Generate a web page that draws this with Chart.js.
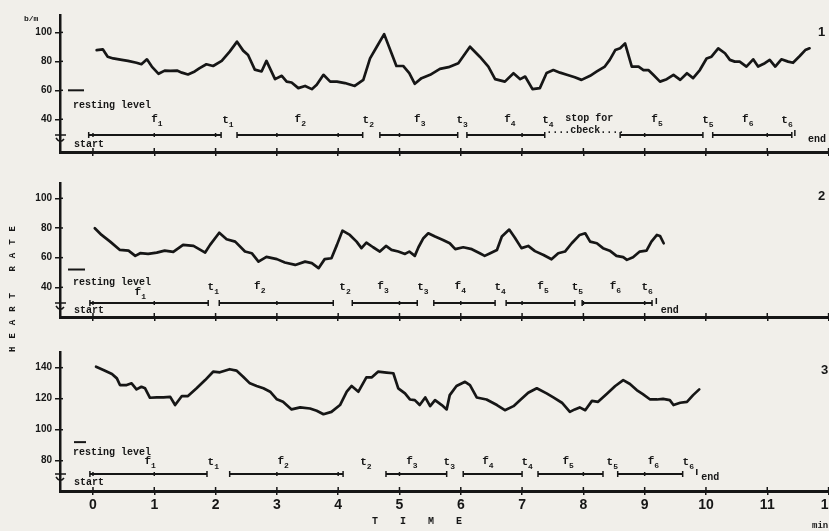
<!DOCTYPE html>
<html>
<head>
<meta charset="utf-8">
<script src="https://cdn.jsdelivr.net/npm/chart.js@4/dist/chart.umd.min.js"></script>
<style>
body{margin:0;background:#f1efea}
#wrap{position:relative;width:829px;height:531px;overflow:hidden;background:#f1efea}
canvas{position:absolute;left:0}
.lbl{position:absolute;font:bold 10px "Liberation Mono",monospace;color:#161616;white-space:nowrap}
</style>
</head>
<body>
<div id="wrap">
  <canvas id="c1" width="880" height="170" style="top:0"></canvas>
  <canvas id="c2" width="880" height="160" style="top:170px"></canvas>
  <canvas id="c3" width="880" height="201" style="top:330px"></canvas>
  <div class="lbl" style="left:24px;top:14px;font-size:8px">b/m</div>
  <div class="lbl" style="left:13px;top:285px;transform:translate(-50%,-50%) rotate(-90deg);font-size:9px;letter-spacing:8px">HEART RATE</div>
  <div class="lbl" style="left:372px;top:516px;letter-spacing:22px">TIME</div>
  <div class="lbl" style="left:812px;top:521px;font-size:9px">min.</div>
  <div class="lbl" style="left:818px;top:24px;font:bold 13px 'Liberation Sans',Arial">1</div>
  <div class="lbl" style="left:818px;top:188px;font:bold 13px 'Liberation Sans',Arial">2</div>
  <div class="lbl" style="left:821px;top:362px;font:bold 13px 'Liberation Sans',Arial">3</div>
</div>
<script>
const ink = '#161616';

// heart rate traces, minutes vs beats per minute
const time1 = [0.06,0.16,0.24,0.33,0.47,0.57,0.71,0.79,0.88,0.96,1.07,1.17,1.26,1.37,1.45,1.55,1.66,1.74,1.85,1.96,
  2.10,2.23,2.35,2.45,2.53,2.64,2.75,2.83,2.97,3.08,3.16,3.24,3.35,3.46,3.57,3.65,3.76,3.87,3.98,4.11,
  4.27,4.41,4.52,4.63,4.75,4.87,4.95,5.06,5.16,5.25,5.36,5.50,5.66,5.80,5.96,6.15,6.31,6.45,6.56,6.72,
  6.86,6.97,7.05,7.17,7.29,7.40,7.51,7.62,7.73,7.86,7.97,8.11,8.22,8.35,8.43,8.52,8.60,8.68,8.79,8.90,
  8.98,9.06,9.14,9.25,9.36,9.47,9.58,9.69,9.79,9.90,10.01,10.09,10.20,10.31,10.39,10.47,10.55,10.66,10.77,10.85,
  10.96,11.04,11.13,11.23,11.34,11.42,11.53,11.62,11.69];
const rate1 = [87.8,88.3,83.2,82,81,80.3,79,78,81.4,76.4,71.4,73.6,73.4,73.6,72.2,70.9,73,75.3,78,76.8,
  80.3,86.7,93.6,87.4,84.4,74.3,73,80.3,67.7,70,66,65.4,61.5,63,60.8,63.8,70.7,66,66,65,
  63,67.2,82,90.1,98.8,85.6,76.8,76.8,71.8,64.5,68.4,70.7,74.8,76,78.7,90.1,83.2,76.4,67.7,66,
  71.8,67.7,69.5,60.8,61.5,72,74,72.2,70.7,69,67.2,70,73,76.4,81,87.8,89,92.4,76.4,76.4,
  74,74,70.7,66,67.7,70.7,67.2,71.8,68.4,74,82,83.2,89,85.6,81,79.8,79.8,76.4,81.4,76.4,
  78.7,81,76.4,81.4,79.8,79,83.7,87.8,89];

const time2 = [0.03,0.14,0.28,0.44,0.58,0.69,0.77,0.90,1.04,1.17,1.31,1.47,1.64,1.83,1.91,2.06,2.18,2.32,2.48,2.59,
  2.70,2.83,3.00,3.13,3.30,3.46,3.57,3.68,3.78,3.89,3.98,4.07,4.19,4.30,4.38,4.46,4.57,4.68,4.78,4.87,
  4.98,5.09,5.16,5.25,5.31,5.39,5.47,5.58,5.71,5.82,5.91,6.04,6.18,6.31,6.39,6.48,6.59,6.67,6.79,6.88,
  6.99,7.10,7.21,7.35,7.48,7.59,7.70,7.81,7.94,8.03,8.11,8.22,8.32,8.43,8.54,8.65,8.71,8.81,8.92,9.03,
  9.11,9.20,9.25,9.31];
const rate2 = [79.8,75.3,70.8,65.2,64.7,61.2,63,62.5,63.4,64.7,63.9,68.6,67.9,63.4,68.6,76.8,72.4,70.8,64.1,63,
  57.3,60.5,59,56.7,55.1,57.3,56.3,52.9,59,59.6,68.6,78.2,75.3,70.8,66.4,70.1,67,64.1,67.9,65.2,
  64.1,62.5,64.1,61.2,67,73.1,76.4,74.2,71.9,69.7,65.7,67,65.7,63,61.2,63,65.2,74.2,78.9,73.6,
  66.4,67.9,64.4,61.8,58.9,63,64.1,69.7,75.3,76.4,70.8,69.7,66.4,64.7,61.2,60.3,58.5,60.3,64.1,64.7,
  70.8,75.3,74.6,69.7];

const time3 = [0.05,0.17,0.31,0.39,0.44,0.55,0.63,0.71,0.79,0.85,0.93,1.04,1.15,1.26,1.34,1.45,1.55,1.69,1.83,1.96,
  2.07,2.23,2.34,2.45,2.56,2.67,2.78,2.89,3.00,3.10,3.24,3.38,3.54,3.65,3.76,3.89,4.03,4.14,4.22,4.33,
  4.46,4.55,4.65,4.79,4.90,4.98,5.09,5.17,5.25,5.33,5.42,5.50,5.58,5.69,5.77,5.82,5.93,6.07,6.15,6.26,
  6.42,6.59,6.72,6.86,6.97,7.10,7.24,7.40,7.51,7.65,7.78,7.86,7.94,8.03,8.14,8.24,8.38,8.52,8.65,8.76,
  8.87,8.97,9.09,9.20,9.30,9.41,9.47,9.58,9.69,9.79,9.89];
const rate3 = [140.6,138.5,135.9,133.1,128.8,128.8,129.9,126,127.7,126.7,120.6,120.8,120.8,121.2,115.9,121.7,121.7,126.7,132,137.4,
  137,139,138.1,134.2,129.9,128.2,126.7,124.5,119.6,118,113.1,114.4,113.7,112.2,110,111.5,115.9,124.5,128.2,124.5,
  133.8,133.8,137.4,136.8,136.4,126.7,123.4,119.5,119.1,115.9,120.8,115.2,119.1,115.9,113.1,122.3,128.2,130.9,128.8,120.8,
  119.5,115.9,112.6,115.2,119.1,123.8,126.7,123.4,120.8,117.4,111.5,113.1,114.4,112.6,118.6,118,123,128.2,132,129.5,
  125.6,123,119.5,119.5,119.9,119.1,115.9,117.4,118,122.3,126];

// y tick values per panel
const yTicks1 = [40,60,80,100];
const yTicks2 = [40,60,80,100];
const yTicks3 = [80,100,120,140];

// work phases f1..f6 (start, end in minutes), transfer marks t1..t6
const phase1 = [[-0.07,2.09],[2.35,4.40],[4.68,5.95],[6.10,7.37],[8.60,9.95],[10.11,11.40]];
const fAt1 = [1.04,3.38,5.33,6.80,9.20,10.68];
const tAt1 = [2.20,4.49,6.02,7.42,10.03,11.32];
const check1 = [7.46,8.60];

const phase2 = [[-0.05,1.88],[2.06,3.92],[4.23,5.29],[5.56,6.56],[6.74,7.86],[7.98,9.12]];
const fAt2 = [0.77,2.72,4.73,5.99,7.34,8.52];
const tAt2 = [1.96,4.11,5.38,6.64,7.90,9.04];

const phase3 = [[-0.05,1.86],[2.23,4.08],[4.78,5.77],[6.04,7.00],[7.26,8.32],[8.56,9.62]];
const fAt3 = [0.93,3.10,5.20,6.44,7.75,9.14];
const tAt3 = [1.96,4.45,5.81,7.08,8.47,9.71];

const restLevel = [60, 52, 92];
const endMark = [11.45, 9.19, 9.85];
const endAt = [11.81, 9.41, 10.07];

const xMin = -0.538, xMax = 12.839;
const mono = '"Liberation Mono", monospace';

const notesById = {
  c1: {phases: phase1, fAt: fAt1, tAt: tAt1, rest: restLevel[0], endMark: endMark[0], endAt: endAt[0],
       check: check1, barRise: 17, textRise: 33, restRise: 47, startRise: 8, endRise: 13, dash: [8, 24], f1Drop: 0},
  c2: {phases: phase2, fAt: fAt2, tAt: tAt2, rest: restLevel[1], endMark: endMark[1], endAt: endAt[1],
       barRise: 14, textRise: 31, restRise: 35, startRise: 7, endRise: 7, dash: [8, 25], f1Drop: 6},
  c3: {phases: phase3, fAt: fAt3, tAt: tAt3, rest: restLevel[2], endMark: endMark[2], endAt: endAt[2],
       barRise: 17, textRise: 30, restRise: 39, startRise: 9, endRise: 14, dash: [14, 26], f1Drop: 0}
};

function seg(ctx, x1, y1, x2, y2) {
  ctx.beginPath(); ctx.moveTo(x1, y1); ctx.lineTo(x2, y2); ctx.stroke();
}

function subLabel(ctx, ch, n, x, y) {
  ctx.textBaseline = 'middle';
  ctx.font = 'bold 11px ' + mono;
  ctx.textAlign = 'right';
  ctx.fillText(ch, x + 1, y);
  ctx.font = 'bold 8px ' + mono;
  ctx.textAlign = 'left';
  ctx.fillText(String(n), x + 1, y + 5);
}

const notesPlugin = {
  id: 'notes',
  afterDraw(chart) {
    const o = notesById[chart.canvas.id];
    const {ctx, chartArea: a, scales: {x, y}} = chart;
    const X = v => x.getPixelForValue(v);
    const barY = a.bottom - o.barRise;
    const txtY = a.bottom - o.textRise;
    ctx.save();
    ctx.strokeStyle = ink;
    ctx.fillStyle = ink;
    ctx.lineCap = 'butt';

    // minute ticks above the base line and right of the y axis
    ctx.lineWidth = 1.5;
    x.ticks.forEach(t => seg(ctx, X(t.value), a.bottom - 4, X(t.value), a.bottom));
    y.ticks.forEach(t => { const py = y.getPixelForValue(t.value); seg(ctx, a.left, py, a.left + 3, py); });

    // phase bars
    o.phases.forEach(([s, e]) => {
      ctx.lineWidth = 2;
      seg(ctx, X(s), barY, X(e), barY);
      ctx.lineWidth = 1.5;
      seg(ctx, X(s), barY - 3, X(s), barY + 3);
      seg(ctx, X(e), barY - 3, X(e), barY + 3);
      for (let m = Math.ceil(s); m < e; m++) seg(ctx, X(m), barY - 2, X(m), barY + 2);
    });
    ctx.lineWidth = 1.5;
    seg(ctx, X(o.endMark), barY - 5, X(o.endMark), barY + 1);

    o.fAt.forEach((m, i) => subLabel(ctx, 'f', i + 1, X(m), txtY + (i === 0 ? o.f1Drop : 0)));
    o.tAt.forEach((m, i) => subLabel(ctx, 't', i + 1, X(m), txtY + 1));

    ctx.textBaseline = 'middle';
    ctx.font = 'bold 10px ' + mono;
    if (o.check) {
      const cx = (X(o.check[0]) + X(o.check[1])) / 2;
      ctx.textAlign = 'center';
      ctx.fillText('stop for', cx + 4, barY - 17);
      ctx.fillText('....cbeck....', cx, barY - 5);
    }

    // resting level marker
    const ry = y.getPixelForValue(o.rest);
    ctx.lineWidth = 2;
    seg(ctx, a.left + o.dash[0], ry, a.left + o.dash[1], ry);
    ctx.textAlign = 'left';
    ctx.fillText('resting level', a.left + 13, a.bottom - o.restRise);
    ctx.fillText('start', a.left + 14, a.bottom - o.startRise);
    ctx.textAlign = 'center';
    ctx.fillText('end', X(o.endAt), a.bottom - o.endRise);

    // start mark on the axis
    ctx.lineWidth = 1.5;
    seg(ctx, a.left - 5, barY, a.left + 6, barY);
    ctx.beginPath();
    ctx.moveTo(a.left - 4, barY + 3);
    ctx.quadraticCurveTo(a.left, barY + 9, a.left + 4, barY + 4);
    ctx.stroke();
    ctx.restore();
  }
};

function panel(id, time, rate, yMin, yMax, yTicks, top, axisH, showX) {
  return new Chart(document.getElementById(id), {
    type: 'line',
    data: {
      datasets: [{
        data: time.map((t, i) => ({x: t, y: rate[i]})),
        borderColor: ink, borderWidth: 2.7, pointRadius: 0, tension: 0,
        borderJoinStyle: 'round', borderCapStyle: 'round', fill: false
      }]
    },
    options: {
      responsive: false, animation: false, events: [],
      layout: {padding: {top: top, left: 0, right: 0, bottom: 0}},
      plugins: {legend: {display: false}, tooltip: {enabled: false}},
      scales: {
        x: {
          type: 'linear', min: xMin, max: xMax,
          afterFit: s => { s.height = axisH; },
          border: {color: ink, width: 3},
          grid: {drawOnChartArea: false, color: ink, lineWidth: 1.5, tickLength: 4},
          ticks: {display: showX, stepSize: 1, includeBounds: false, maxTicksLimit: 20, autoSkip: false,
                  maxRotation: 0, padding: 2, color: ink,
                  font: {family: '"Liberation Sans", Arial', size: 14, weight: 'bold'}}
        },
        y: {
          type: 'linear', min: yMin, max: yMax,
          afterFit: s => { s.width = 60; },
          afterBuildTicks: s => { s.ticks = yTicks.map(v => ({value: v})); },
          border: {color: ink, width: 2.5},
          grid: {drawOnChartArea: false, color: ink, lineWidth: 1.5, tickLength: 5},
          ticks: {padding: 3, color: ink, font: {family: '"Liberation Sans", Arial', size: 10, weight: 'bold'}}
        }
      }
    },
    plugins: [notesPlugin]
  });
}

panel('c1', time1, rate1, 17.4, 112, yTicks1, 15, 18, false);
panel('c2', time2, rate2, 20, 110.3, yTicks2, 13, 13, false);
panel('c3', time3, rate3, 60.5, 150.1, yTicks3, 22, 40, true);
</script>
</body>
</html>
